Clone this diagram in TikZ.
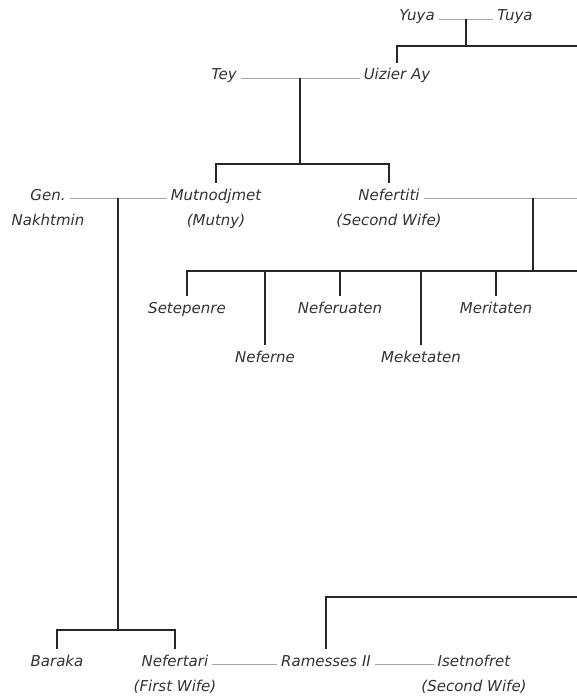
\documentclass[tikz,border=0pt]{standalone}
\usepackage{fontspec}
\setmainfont{DejaVu Sans}
\usetikzlibrary{calc}

\begin{document}
\begin{tikzpicture}[x=1pt,y=-1pt,
pers/.style={font=\itshape\fontsize{15}{18}\selectfont, text=black!80, inner sep=2pt, outer sep=2pt, text height=13pt, text depth=4pt, anchor=base, label distance=-2pt},
sub/.style={font=\itshape\fontsize{15}{18}\selectfont, text=black!80, inner sep=2pt, outer sep=2pt, text height=13pt, text depth=4pt},
wed/.style={draw=black!35, line width=0.8pt},
kin/.style={draw=black!85, line width=1.8pt}]

\useasboundingbox (0,0) rectangle (577,698);
\coordinate (edge) at (577,0);

% grandparents and parents
\node[pers] (yuya) at (417,21) {Yuya};
\node[pers] (tuya) at (515,21) {Tuya};
\node[pers] (tey) at (224,80) {Tey};
\node[pers] (ay) at (397,80) {Uizier Ay};

\node[pers, label={[sub]below:Nakhtmin}] (gen) at (48,200) {Gen.};
\node[pers, label={[sub]below:(Mutny)}] (mut) at (216,200) {Mutnodjmet};
\node[pers, label={[sub]below:(Second Wife)}] (nef) at (389,200) {Nefertiti};

% daughters of Nefertiti
\node[pers] (sete) at (187,313) {Setepenre};
\node[pers] (neferne) at (265,362) {Neferne};
\node[pers] (neferuaten) at (340,313) {Neferuaten};
\node[pers] (meketaten) at (421,362) {Meketaten};
\node[pers] (meritaten) at (496,313) {Meritaten};

% bottom row
\node[pers] (baraka) at (57,666) {Baraka};
\node[pers, label={[sub]below:(First Wife)}] (nefertari) at (175,666) {Nefertari};
\node[pers] (ram) at (326,666) {Ramesses II};
\node[pers, label={[sub]below:(Second Wife)}] (iset) at (474,666) {Isetnofret};

% marriages
\foreach \p in {yuya,tey,gen,nef,nefertari,ram}
  \coordinate (\p R) at ([yshift=2pt]\p.base east);
\foreach \p in {tuya,ay,mut,ram,iset}
  \coordinate (\p L) at ([yshift=2pt]\p.base west);

\draw[wed] (yuyaR) -- coordinate (yt) (tuyaL);
\draw[wed] (teyR) -- coordinate (ta) (ayL);
\draw[wed] (genR) -- coordinate (gm) (mutL);
\draw[wed] (nefR) -- (nefR -| edge);
\draw[wed] (nefertariR) -- (ramL);
\draw[wed] (ramR) -- (isetL);

% descent
\coordinate (aybar) at (0,46);
\draw[kin] (yt) -- (yt |- aybar);
\draw[kin] (ay.north) |- (aybar -| edge);

\coordinate (mnbar) at (0,164);
\draw[kin] (ta) -- (ta |- mnbar);
\draw[kin] (mut.north) |- (ta |- mnbar) -| (nef.north);

\coordinate (kidbar) at (533,271);
\draw[kin] (nefR -| kidbar) -- (kidbar);
\draw[kin] (sete.north) |- (kidbar -| edge);
\foreach \k in {neferne,neferuaten,meketaten,meritaten}
  \draw[kin] (\k.north) -- (\k.north |- kidbar);

\coordinate (gmbar) at (0,630);
\draw[kin] (gm) -- (gm |- gmbar);
\draw[kin] (baraka.north) |- (gm |- gmbar) -| (nefertari.north);

\coordinate (rambar) at (0,597);
\draw[kin] (ram.north) |- (rambar -| edge);
\end{tikzpicture}
\end{document}
